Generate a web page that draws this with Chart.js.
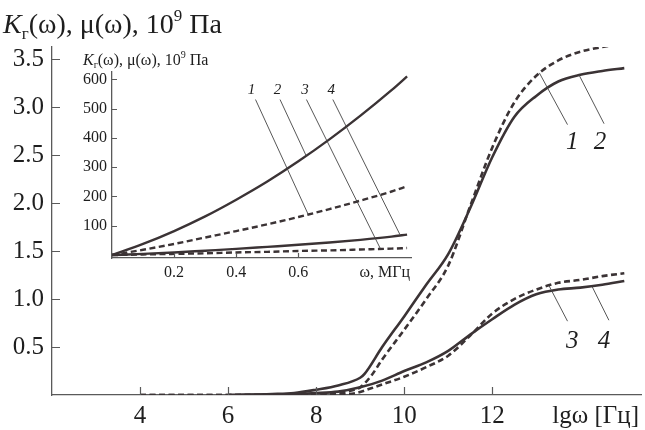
<!DOCTYPE html>
<html>
<head>
<meta charset="utf-8">
<script src="https://cdn.jsdelivr.net/npm/chart.js@4.4.1/dist/chart.umd.min.js"></script>
<style>
  html, body { margin: 0; padding: 0; background: #fff; }
  #wrap { position: relative; width: 645px; height: 430px; }
  #main { position: absolute; left: 0; top: 0; }
  #inset { position: absolute; left: 60px; top: 40px; }
</style>
</head>
<body>
<div id="wrap">
  <canvas id="main" width="645" height="430"></canvas>
  <canvas id="inset" width="355" height="245"></canvas>
</div>
<script>
// ---- main plot: K(ω), μ(ω) vs lg ω ----
const lgDashed1 = [4, 5, 6, 7, 8, 8.5, 8.75, 9, 9.25, 9.5, 10, 10.5, 11, 11.5, 12, 12.5, 13, 13.5, 14, 14.5, 15];
const curve1    = [0, 0, 0, 0, 0.005, 0.02, 0.04, 0.08, 0.2, 0.37, 0.68, 1.0, 1.35, 1.97, 2.58, 3.05, 3.33, 3.49, 3.58, 3.63, 3.67];

const lgSolid2 = [6, 7, 7.5, 8, 8.5, 9, 9.1, 9.5, 10, 10.5, 11, 11.5, 12, 12.5, 13, 13.5, 14, 14.5, 15];
const curve2   = [0, 0.01, 0.02, 0.055, 0.1, 0.18, 0.22, 0.5, 0.82, 1.15, 1.47, 1.95, 2.48, 2.9, 3.12, 3.27, 3.34, 3.38, 3.41];

const lgDashed3 = [4, 5, 6, 7, 8, 8.5, 8.9, 9.25, 9.5, 10, 10.5, 11, 11.5, 12, 12.5, 13, 13.5, 14, 14.5, 15];
const curve3    = [0, 0, 0, 0, 0, 0.005, 0.02, 0.07, 0.11, 0.19, 0.29, 0.41, 0.62, 0.85, 1.0, 1.1, 1.17, 1.2, 1.24, 1.27];

const lgSolid4 = [6, 7, 8, 8.5, 9, 9.5, 10, 10.5, 11, 11.5, 12, 12.5, 13, 13.5, 14, 14.5, 15];
const curve4   = [0, 0.005, 0.02, 0.035, 0.08, 0.15, 0.25, 0.34, 0.46, 0.63, 0.79, 0.94, 1.05, 1.1, 1.12, 1.15, 1.19];

const mainXTicks = [4, 6, 8, 10, 12];
const mainYTicks = [0.5, 1.0, 1.5, 2.0, 2.5, 3.0, 3.5];
const mainXName = 'lgω [Гц]';
const mainXNameAt = 14.35;

// curve numbers and their leader lines, in data units
const mainNames = ['1', '2', '3', '4'];
const mainNameAt = [[13.82, 2.63], [14.45, 2.63], [13.82, 0.56], [14.54, 0.56]];
const mainLeaders = [
    [13.71, 2.82, 13.07, 3.36],
    [14.54, 2.83, 13.97, 3.34],
    [13.71, 0.77, 13.29, 1.14],
    [14.65, 0.78, 14.27, 1.13]
];

// ---- inset: K(ω), μ(ω) vs ω, MHz ----
const omega   = [0, 0.1, 0.2, 0.3, 0.4, 0.5, 0.6, 0.7, 0.8, 0.9, 0.95];
const inset1  = [0, 18, 38, 60, 82, 105, 130, 157, 186, 217, 235];
const inset2  = [0, 38, 82, 132, 189, 251, 320, 395, 476, 563, 610];
const inset3  = [0, 2, 4, 6, 9, 11, 14, 16, 19, 22, 24];
const inset4  = [0, 4, 9, 15, 21, 28, 35, 43, 52, 63, 70];

const insetXTicks = [0.2, 0.4, 0.6];
const insetYTicks = [100, 200, 300, 400, 500, 600];
const insetXName = 'ω, МГц';
const insetXNameAt = 0.878;

const insetNames = ['1', '2', '3', '4'];
const insetNameAt = [[0.449, 565], [0.533, 565], [0.621, 565], [0.706, 565]];
const insetLeaders = [
    [0.462, 531, 0.632, 138],
    [0.541, 531, 0.626, 337],
    [0.626, 531, 0.864, 22],
    [0.711, 531, 0.927, 70]
];

const INK = '#3b3335';
const AXIS = '#5a5a5a';
const TEXT = '#1e1e1e';
const SERIF = '"Liberation Serif", "DejaVu Serif", serif';

function pts(xs, ys) {
    return xs.map((x, i) => ({ x: x, y: ys[i] }));
}

function series(xs, ys, dashed, width) {
    return {
        data: pts(xs, ys),
        borderColor: INK,
        borderWidth: width,
        borderDash: dashed ? [6, 3.5] : [],
        pointRadius: 0,
        fill: false,
        showLine: true,
        cubicInterpolationMode: 'monotone'
    };
}

// draws text made of pieces (italic, sub/superscripts)
function drawRich(ctx, x, y, parts) {
    ctx.textAlign = 'left';
    ctx.textBaseline = 'alphabetic';
    parts.forEach(p => {
        ctx.font = (p.italic ? 'italic ' : '') + p.size + 'px ' + SERIF;
        ctx.fillText(p.t, x, y + (p.dy || 0));
        x += ctx.measureText(p.t).width;
    });
}

function unitParts(s) {
    const small = Math.round(s * 0.62);
    return [
        { t: 'K', italic: true, size: s },
        { t: 'г', size: small, dy: s * 0.2 },
        { t: '(ω), μ(ω), 10', size: s },
        { t: '9', size: small, dy: -s * 0.42 },
        { t: ' Па', size: s }
    ];
}

// tick marks pointing into the plot
const inwardTicks = {
    id: 'inwardTicks',
    afterDraw(chart, args, opts) {
        const { ctx, chartArea: a, scales: { x, y } } = chart;
        ctx.save();
        ctx.strokeStyle = AXIS;
        ctx.lineWidth = 1.2;
        ctx.beginPath();
        opts.x.forEach(v => {
            const px = Math.round(x.getPixelForValue(v)) + 0.5;
            ctx.moveTo(px, a.bottom);
            ctx.lineTo(px, a.bottom - opts.len);
        });
        opts.y.forEach(v => {
            const py = Math.round(y.getPixelForValue(v)) + 0.5;
            ctx.moveTo(a.left, py);
            ctx.lineTo(a.left + opts.len, py);
        });
        ctx.stroke();
        ctx.restore();
    }
};

// curve numbers, leader lines and the axis heading
const curveNotes = {
    id: 'curveNotes',
    afterDatasetsDraw(chart, args, opts) {
        const { ctx, scales: { x, y } } = chart;
        ctx.save();
        ctx.strokeStyle = '#444';
        ctx.lineWidth = 0.9;
        ctx.beginPath();
        opts.leaders.forEach(l => {
            ctx.moveTo(x.getPixelForValue(l[0]), y.getPixelForValue(l[1]));
            ctx.lineTo(x.getPixelForValue(l[2]), y.getPixelForValue(l[3]));
        });
        ctx.stroke();
        ctx.fillStyle = TEXT;
        ctx.font = 'italic ' + opts.size + 'px ' + SERIF;
        ctx.textAlign = 'center';
        ctx.textBaseline = 'middle';
        opts.names.forEach((n, i) => {
            ctx.fillText(n, x.getPixelForValue(opts.at[i][0]), y.getPixelForValue(opts.at[i][1]));
        });
        drawRich(ctx, opts.title[0], opts.title[1], unitParts(opts.title[2]));
        ctx.restore();
    }
};

function axisX(min, max, ticks, name, nameAt, size, pad, height) {
    return {
        type: 'linear',
        min: min,
        max: max,
        afterBuildTicks: s => { s.ticks = ticks.concat([nameAt]).map(v => ({ value: v })); },
        afterFit: s => { s.height = height; },
        ticks: {
            autoSkip: false,
            maxRotation: 0,
            padding: pad,
            color: TEXT,
            font: { family: SERIF, size: size },
            callback: v => (v === nameAt ? name : String(v))
        },
        grid: { display: true, drawOnChartArea: false, drawTicks: false },
        border: { display: true, color: AXIS, width: 1.3 }
    };
}

function axisY(min, max, ticks, fmt, size, pad, width) {
    return {
        type: 'linear',
        min: min,
        max: max,
        afterBuildTicks: s => { s.ticks = ticks.map(v => ({ value: v })); },
        afterFit: s => { s.width = width; },
        ticks: {
            autoSkip: false,
            padding: pad,
            color: TEXT,
            font: { family: SERIF, size: size },
            callback: fmt
        },
        grid: { display: true, drawOnChartArea: false, drawTicks: false },
        border: { display: true, color: AXIS, width: 1.3 }
    };
}

new Chart(document.getElementById('main'), {
    type: 'scatter',
    data: {
        datasets: [
            series(lgDashed1, curve1, true, 2.6),
            series(lgSolid2, curve2, false, 2.6),
            series(lgDashed3, curve3, true, 2.6),
            series(lgSolid4, curve4, false, 2.6)
        ]
    },
    options: {
        responsive: false,
        devicePixelRatio: 1,
        animation: false,
        layout: { padding: { top: 47, right: 0, left: 0, bottom: 0 } },
        plugins: {
            legend: { display: false },
            tooltip: { enabled: false },
            inwardTicks: { x: mainXTicks, y: mainYTicks, len: 8 },
            curveNotes: {
                names: mainNames, at: mainNameAt, leaders: mainLeaders, size: 25,
                title: [3, 33, 28]
            }
        },
        scales: {
            x: axisX(2, 15.4, mainXTicks, mainXName, mainXNameAt, 25, 6, 35),
            y: axisY(0, 3.63, mainYTicks, v => v.toFixed(1), 25, 8, 52)
        }
    },
    plugins: [inwardTicks, curveNotes]
});

new Chart(document.getElementById('inset'), {
    type: 'scatter',
    data: {
        datasets: [
            series(omega, inset1, true, 2.4),
            series(omega, inset2, false, 2.4),
            series(omega, inset3, true, 2.4),
            series(omega, inset4, false, 2.4)
        ]
    },
    options: {
        responsive: false,
        devicePixelRatio: 1,
        animation: false,
        layout: { padding: { top: 32, right: 0, left: 0, bottom: 0 } },
        plugins: {
            legend: { display: false },
            tooltip: { enabled: false },
            inwardTicks: { x: insetXTicks, y: insetYTicks, len: 5 },
            curveNotes: {
                names: insetNames, at: insetNameAt, leaders: insetLeaders, size: 15,
                title: [23, 25, 16]
            }
        },
        scales: {
            x: axisX(0, 0.965, insetXTicks, insetXName, insetXNameAt, 16, 5, 27),
            y: axisY(-10, 625, insetYTicks, v => String(v), 16, 5, 52)
        }
    },
    plugins: [inwardTicks, curveNotes]
});
</script>
</body>
</html>
